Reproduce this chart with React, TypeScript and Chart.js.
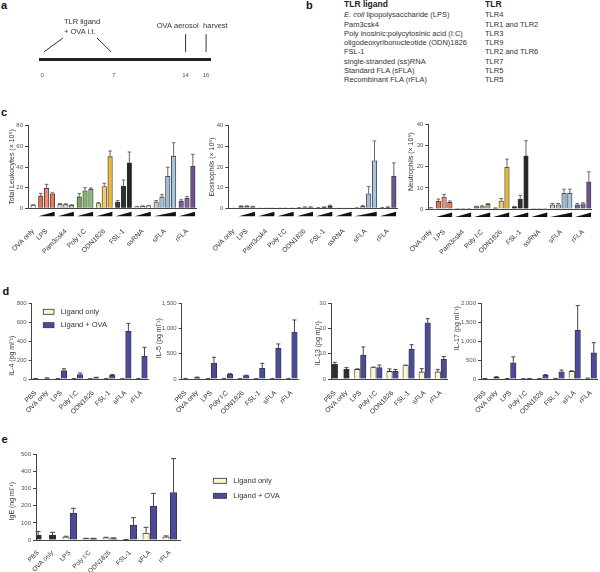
import React, { useEffect, useRef } from "react";
import { Chart, registerables } from "chart.js";
Chart.register(...registerables);

const FONT = '"Liberation Sans", Arial, Helvetica, sans-serif';

// ---------------- Panel a: timeline ----------------
const timelineDays = [0, 7, 14, 16];
const timelineTickLabels = ["0", "7", "14", "16"];
const pointerADays = [0.17, 2.02];
const pointerAHeights = [0.19, 0.54];
const pointerBDays = [5.35, 6.72];
const pointerBHeights = [0.54, 0.19];
const eventDays = [14, 16];
const eventHeights = [0.19, 0.64];
const eventLabels = ["OVA aerosol", "harvest"];
const instillLabels = ["TLR ligand", "+ OVA i.t."];

// ---------------- Panel b: table ----------------
const ligandNames = [
  "E. coli lipopolysaccharide (LPS)",
  "Pam3csk4",
  "Poly inosinic:polycytosinic acid (I:C)",
  "oligodeoxyribonucleotide (ODN)1826",
  "FSL-1",
  "single-stranded (ss)RNA",
  "Standard FLA (sFLA)",
  "Recombinant FLA (rFLA)",
];
const receptorNames = ["TLR4", "TLR1 and TLR2", "TLR3", "TLR9", "TLR2 and TLR6", "TLR7", "TLR5", "TLR5"];

// ---------------- Panel c ----------------
const cGroups = ["OVA only", "LPS", "Pam3csk4", "Poly I:C", "ODN1826", "FSL-1", "ssRNA", "sFLA", "rFLA"];
const leukocytes = [[3], [12, 19.5, 14], [4, 3.8, 3], [11, 17, 18.5], [4.5, 21, 50], [6, 21.5, 44], [1.5, 2, 2.5], [6, 11, 31, 50.5], [7, 10, 41]];
const leukocytesSem = [[0.4], [2.5, 3.7, 1], [0.6, 0.5, 0.4], [3.2, 3, 1.2], [1, 3.2, 5.5], [1.5, 5.9, 10.5], [0.3, 0.3, 0.3], [1.5, 2.5, 8.7, 13], [1.3, 1.5, 11.3]];
const eosinophils = [[0.1], [1, 1, 0.8], [0.1, 0.1, 0.1], [0.1, 0.1, 0.1], [0.2, 0.5, 0.5], [0.2, 0.5, 1.2], [0.05, 0.05, 0.05], [0.1, 1, 7, 23], [0.2, 0.5, 15.6]];
const eosinophilsSem = [[0], [0.2, 0.2, 0.2], [0, 0, 0], [0, 0, 0], [0.1, 0.2, 0.2], [0.1, 0.2, 0.3], [0, 0, 0], [0.1, 0.3, 3.5, 9.6], [0.1, 0.2, 6.4]];
const neutrophils = [[0.5], [3.6, 5.7, 3.1], [0.2, 0.2, 0.2], [1.1, 1.2, 2.2], [0.4, 3.8, 19.7], [1, 4.6, 25.2], [0.1, 0.1, 0.1], [2, 2, 7.4, 7.4], [2, 2.5, 12.9]];
const neutrophilsSem = [[0.1], [1.1, 1.2, 0.7], [0, 0, 0], [0.2, 0.3, 0.4], [0.1, 1.2, 3.9], [0.2, 1.9, 7.1], [0, 0, 0], [0.6, 0.6, 2, 2], [0.6, 0.5, 4.7]];
const cColors = [
  ["#ffffff"],
  ["#e2714f", "#ef8f75", "#ea7b5c"],
  ["#d9d9d9", "#d0d0d0", "#c8c8c8"],
  ["#79a65a", "#86b56a", "#8fbd74"],
  ["#f2dc93", "#f2cc6a", "#e9b83d"],
  ["#3c3c3c", "#303030", "#252525"],
  ["#f2f2f2", "#f4f4f4", "#f6f6f6"],
  ["#b9cce0", "#aac3dc", "#9fbbd8", "#a8c4e0"],
  ["#7a5f99", "#7f64a0", "#6f5290"],
];

// ---------------- Panels d and e ----------------
const dCats = ["PBS", "OVA only", "LPS", "Poly I:C", "ODN1826", "FSL-1", "sFLA", "rFLA"];
const seriesNames = ["Ligand only", "Ligand + OVA"];

const il4Control = [3, 10];
const il4ControlSem = [1, 2];
const il4Only = [3, 3, 2, 3, 2, 3];
const il4OnlySem = [1, 1, 1, 1, 1, 1];
const il4Ova = [90, 46, 15, 42, 507, 243];
const il4OvaSem = [18, 17, 3, 5, 81, 92];

const il5Control = [10, 30];
const il5ControlSem = [3, 8];
const il5Only = [5, 10, 5, 5, 5, 10];
const il5OnlySem = [2, 3, 2, 2, 2, 3];
const il5Ova = [317, 92, 66, 211, 608, 932];
const il5OvaSem = [113, 13, 8, 99, 86, 238];

const il13Control = [5.8, 3.8];
const il13ControlSem = [0.8, 0.7];
const il13Only = [3.8, 4.5, 3.0, 5.3, 2.8, 2.8];
const il13OnlySem = [0.2, 0.2, 1.0, 0.2, 1.3, 1.0];
const il13Ova = [9.5, 4.5, 3.0, 11.8, 22.3, 7.8];
const il13OvaSem = [3.2, 1.0, 0.8, 1.8, 1.6, 1.1];

const il17Control = [10, 52];
const il17ControlSem = [3, 8];
const il17Only = [10, 5, 10, 15, 200, 20];
const il17OnlySem = [3, 2, 3, 3, 14, 4];
const il17Ova = [428, 10, 96, 192, 1284, 690];
const il17OvaSem = [157, 3, 20, 44, 655, 270];

const igeControl = [27, 29];
const igeControlSem = [23, 16];
const igeOnly = [17.5, 8, 13, 2, 39, 18];
const igeOnlySem = [4.5, 2, 3, 1, 35, 6];
const igeOva = [156, 8, 9, 87.5, 198, 276];
const igeOvaSem = [29, 2, 4, 42.5, 74, 199];

const CONTROL_COLOR = "#2e2e2e";
const ONLY_COLOR = "#fbf6cf";
const OVA_COLOR = "#4c4b9b";

// ---------------- helpers ----------------
type Bar = { x: number; y: number; sem: number; color: string };
const C_GAP = 0.3;

function buildGroupBars(values: number[][], sems: number[][], colors: string[][]) {
  const bars: Bar[] = [];
  const centers: number[] = [];
  const wedges: [number, number][] = [];
  let k = 0;
  values.forEach((grp, g) => {
    const xs = grp.map((_, j) => k + j + g * C_GAP);
    grp.forEach((v, j) => bars.push({ x: xs[j], y: v, sem: sems[g][j], color: colors[g][j] }));
    centers.push((xs[0] + xs[xs.length - 1]) / 2);
    if (grp.length > 1) wedges.push([xs[0], xs[xs.length - 1]]);
    k += grp.length;
  });
  return { bars, centers, wedges };
}

const SINGLE_W = 0.72;
const PAIR_OFF = 0.185;
function buildPairBars(control: number[], controlSem: number[], only: number[], onlySem: number[], ova: number[], ovaSem: number[]) {
  const bars: Bar[] = [];
  const centers: number[] = [];
  let pos = 0;
  control.forEach((v, i) => {
    const c = pos + SINGLE_W / 2;
    centers.push(c);
    bars.push({ x: c, y: v, sem: controlSem[i], color: CONTROL_COLOR });
    pos += SINGLE_W;
  });
  only.forEach((v, i) => {
    const c = pos + 0.5;
    centers.push(c);
    bars.push({ x: c - PAIR_OFF, y: v, sem: onlySem[i], color: ONLY_COLOR });
    bars.push({ x: c + PAIR_OFF, y: ova[i], sem: ovaSem[i], color: OVA_COLOR });
    pos += 1;
  });
  return { bars, centers };
}

type LegendCfg = { x: number; y: number; boxW: number; boxH: number; gap: number; textX: number };
type PanelProps = {
  plot: { left: number; top: number; right: number; bottom: number };
  xMin: number;
  xMax: number;
  yMax: number;
  yStep: number;
  bars: Bar[];
  barThickness: number;
  capW: number;
  errColor: string;
  tickValues: number[];
  tickLabels: string[];
  labelPad: number;
  labelSize?: number;
  wedges?: [number, number][];
  title: string;
  titleX: number;
  titleShift: number;
  legend?: LegendCfg;
  padRight?: number;
  xAxisH?: number;
  leftRoom?: number;
};

function BarPanel(p: PanelProps) {
  const ref = useRef<HTMLCanvasElement>(null);
  const padRight = p.padRight ?? 4;
  const xAxisH = p.xAxisH ?? 40;
  const cl = Math.max(0, Math.floor(p.plot.left - (p.leftRoom ?? 30)));
  const ct = Math.floor(p.plot.top - 8);
  const cw = Math.min(600, Math.ceil(p.plot.right + padRight)) - cl;
  const ch = Math.min(572, Math.ceil(p.plot.bottom + xAxisH)) - ct;
  const yAxisW = p.plot.left - cl;
  const padTop = p.plot.top - ct;
  const padR = cl + cw - p.plot.right;
  const xH = ct + ch - p.plot.bottom;

  useEffect(() => {
    const errPlugin = {
      id: "errBars",
      afterDatasetsDraw(chart: any) {
        const ctx = chart.ctx;
        const meta = chart.getDatasetMeta(0);
        const ys = chart.scales.y;
        ctx.save();
        ctx.strokeStyle = p.errColor;
        ctx.lineWidth = 1;
        meta.data.forEach((el: any, i: number) => {
          const b = p.bars[i];
          if (!b || b.sem <= 0) return;
          const y0 = ys.getPixelForValue(b.y);
          const y1 = ys.getPixelForValue(b.y + b.sem);
          ctx.beginPath();
          ctx.moveTo(el.x, y0);
          ctx.lineTo(el.x, y1);
          ctx.moveTo(el.x - p.capW / 2, y1);
          ctx.lineTo(el.x + p.capW / 2, y1);
          ctx.stroke();
        });
        ctx.restore();
      },
    };
    const decorPlugin = {
      id: "decor",
      afterDraw(chart: any) {
        const ctx = chart.ctx;
        const xs = chart.scales.x;
        const area = chart.chartArea;
        ctx.save();
        if (p.wedges) {
          ctx.fillStyle = "#111";
          p.wedges.forEach(([a, b]) => {
            const x0 = xs.getPixelForValue(a) - p.barThickness / 2;
            const x1 = xs.getPixelForValue(b) + p.barThickness / 2;
            const yb = area.bottom + 8;
            ctx.beginPath();
            ctx.moveTo(x0, yb);
            ctx.lineTo(x1, yb);
            ctx.lineTo(x1, area.bottom + 3.5);
            ctx.closePath();
            ctx.fill();
          });
        }
        // y title
        ctx.fillStyle = "#333";
        ctx.font = `7px ${FONT}`;
        ctx.textAlign = "center";
        ctx.textBaseline = "middle";
        ctx.translate(p.titleX - cl, (area.top + area.bottom) / 2 + p.titleShift);
        ctx.rotate(-Math.PI / 2);
        ctx.fillText(p.title, 0, 0);
        ctx.restore();
        if (p.legend) {
          const L = p.legend;
          const items = [
            { label: seriesNames[0], color: ONLY_COLOR },
            { label: seriesNames[1], color: OVA_COLOR },
          ];
          ctx.save();
          ctx.font = `7.5px ${FONT}`;
          ctx.textAlign = "left";
          ctx.textBaseline = "middle";
          items.forEach((it, i) => {
            const cy = L.y + i * L.gap - ct;
            ctx.fillStyle = it.color;
            ctx.fillRect(L.x - cl, cy - L.boxH / 2, L.boxW, L.boxH);
            ctx.strokeStyle = "#333";
            ctx.lineWidth = 0.8;
            ctx.strokeRect(L.x - cl, cy - L.boxH / 2, L.boxW, L.boxH);
            ctx.fillStyle = "#333";
            ctx.fillText(it.label, L.textX - cl, cy);
          });
          ctx.restore();
        }
      },
    };
    const chart = new Chart(ref.current as HTMLCanvasElement, {
      type: "bar",
      data: {
        datasets: [
          {
            data: p.bars.map((b) => ({ x: b.x, y: b.y })),
            backgroundColor: p.bars.map((b) => b.color),
            borderColor: "#333",
            borderWidth: 0.8,
            barThickness: p.barThickness,
          } as any,
        ],
      },
      options: {
        responsive: false,
        animation: false,
        devicePixelRatio: 1,
        layout: { padding: { top: padTop, right: padR, left: 0, bottom: 0 } },
        plugins: { legend: { display: false }, tooltip: { enabled: false } },
        scales: {
          x: {
            type: "linear",
            min: p.xMin,
            max: p.xMax,
            offset: false,
            grid: { display: false, offset: false },
            border: { display: true, color: "#444", width: 1 },
            afterBuildTicks: (s: any) => {
              s.ticks = p.tickValues.map((v) => ({ value: v }));
            },
            afterFit: (s: any) => {
              s.height = xH;
            },
            ticks: {
              autoSkip: false,
              minRotation: 45,
              maxRotation: 45,
              padding: p.labelPad,
              color: "#333",
              font: { family: FONT, size: p.labelSize ?? 6.8 },
              callback: (_v: any, i: number) => p.tickLabels[i],
            },
          } as any,
          y: {
            type: "linear",
            min: 0,
            max: p.yMax,
            stacked: false,
            afterFit: (s: any) => {
              s.width = yAxisW;
            },
            grid: { display: true, drawOnChartArea: false, drawTicks: true, tickLength: 3, color: "#444", lineWidth: 1 },
            border: { display: true, color: "#444", width: 1 },
            ticks: {
              stepSize: p.yStep,
              padding: 2,
              color: "#555",
              font: { family: FONT, size: 6 },
              callback: (v: any) => Number(v).toLocaleString("en-US"),
            },
          } as any,
        },
      },
      plugins: [errPlugin, decorPlugin],
    });
    return () => chart.destroy();
  }, []);

  return (
    <canvas
      ref={ref}
      width={cw}
      height={ch}
      style={{ position: "absolute", left: cl, top: ct, width: cw, height: ch, display: "block" }}
    />
  );
}

function TimelineChart() {
  const ref = useRef<HTMLCanvasElement>(null);
  const W = 300;
  const H = 90;
  const plot = { left: 40.7, top: 20, right: 210.7, bottom: 59.3 };
  useEffect(() => {
    const textPlugin = {
      id: "tlText",
      afterDraw(chart: any) {
        const ctx = chart.ctx;
        const xs = chart.scales.x;
        const ys = chart.scales.y;
        ctx.save();
        ctx.fillStyle = "#333";
        ctx.font = `7.5px ${FONT}`;
        ctx.textBaseline = "middle";
        ctx.textAlign = "left";
        const tx = xs.getPixelForValue(pointerADays[1]) + 1;
        ctx.fillText(instillLabels[0], tx, ys.getPixelForValue(0.957));
        ctx.fillText(instillLabels[1], tx, ys.getPixelForValue(0.687));
        ctx.textAlign = "center";
        ctx.fillText(eventLabels[0], xs.getPixelForValue(eventDays[0]) - 8, ys.getPixelForValue(0.847));
        ctx.textAlign = "left";
        ctx.fillText(eventLabels[1], xs.getPixelForValue(eventDays[1]) - 3, ys.getPixelForValue(0.847));
        ctx.restore();
      },
    };
    const line = (xs: number[], ys: number[]) => ({
      data: xs.map((x, i) => ({ x, y: ys[i] })),
      showLine: true,
      borderColor: "#333",
      borderWidth: 1,
      pointRadius: 0,
    });
    const chart = new Chart(ref.current as HTMLCanvasElement, {
      type: "scatter",
      data: {
        datasets: [
          line(pointerADays, pointerAHeights),
          line(pointerBDays, pointerBHeights),
          line([eventDays[0], eventDays[0]], eventHeights),
          line([eventDays[1], eventDays[1]], eventHeights),
        ] as any,
      },
      options: {
        responsive: false,
        animation: false,
        devicePixelRatio: 1,
        layout: { padding: { left: plot.left, top: plot.top, right: W - plot.right, bottom: 0 } },
        plugins: { legend: { display: false }, tooltip: { enabled: false } },
        scales: {
          x: {
            type: "linear",
            min: -0.15,
            max: 16.45,
            grid: { display: false },
            border: { display: true, color: "#222", width: 3 },
            afterBuildTicks: (s: any) => {
              s.ticks = timelineDays.map((v) => ({ value: v }));
            },
            afterFit: (s: any) => {
              s.height = H - plot.bottom;
            },
            ticks: {
              autoSkip: false,
              maxRotation: 0,
              minRotation: 0,
              padding: 4,
              color: "#555",
              font: { family: FONT, size: 6 },
              callback: (_v: any, i: number) => timelineTickLabels[i],
            },
          } as any,
          y: { display: false, min: 0, max: 1 },
        },
      },
      plugins: [textPlugin],
    });
    return () => chart.destroy();
  }, []);
  return (
    <canvas ref={ref} width={W} height={H} style={{ position: "absolute", left: 0, top: 0, width: W, height: H, display: "block" }} />
  );
}

const letterStyle = (left: number, top: number): React.CSSProperties => ({
  position: "absolute",
  left,
  top,
  fontSize: 11,
  lineHeight: "11px",
  fontWeight: "bold",
  color: "#111",
});

const tableText: React.CSSProperties = {
  position: "absolute",
  lineHeight: "9.29px",
  whiteSpace: "nowrap",
  opacity: 0.999,
  WebkitFontSmoothing: "antialiased",
};

export default function App() {
  const c1 = buildGroupBars(leukocytes, leukocytesSem, cColors);
  const c2 = buildGroupBars(eosinophils, eosinophilsSem, cColors);
  const c3 = buildGroupBars(neutrophils, neutrophilsSem, cColors);
  const d4 = buildPairBars(il4Control, il4ControlSem, il4Only, il4OnlySem, il4Ova, il4OvaSem);
  const d5 = buildPairBars(il5Control, il5ControlSem, il5Only, il5OnlySem, il5Ova, il5OvaSem);
  const d13 = buildPairBars(il13Control, il13ControlSem, il13Only, il13OnlySem, il13Ova, il13OvaSem);
  const d17 = buildPairBars(il17Control, il17ControlSem, il17Only, il17OnlySem, il17Ova, il17OvaSem);
  const e = buildPairBars(igeControl, igeControlSem, igeOnly, igeOnlySem, igeOva, igeOvaSem);

  const cCommon = { barThickness: 4.5, capW: 3.5, errColor: "#666", labelPad: 11, tickLabels: cGroups, xAxisH: 48 };
  const dCommon = { barThickness: 5.5, capW: 4, errColor: "#444", labelPad: 2, tickLabels: dCats, xAxisH: 40, xMin: 0.12, xMax: 7.35 };
  const dPlot = (left: number) => ({ left, top: 303.3, right: left + 116.4, bottom: 379 });

  return (
    <div
      style={{
        position: "fixed",
        left: 0,
        top: 0,
        width: 600,
        height: 572,
        background: "#fff",
        overflow: "hidden",
        fontFamily: FONT,
      }}
    >
      <div style={letterStyle(1, 0)}>a</div>
      <div style={letterStyle(306, 0)}>b</div>
      <div style={letterStyle(1, 107.4)}>c</div>
      <div style={letterStyle(2.5, 285.7)}>d</div>
      <div style={letterStyle(1.5, 434)}>e</div>

      <TimelineChart />

      <div style={{ ...tableText, left: 344, top: 0.4, fontSize: 8.5, fontWeight: "bold", color: "#222" }}>TLR ligand</div>
      <div style={{ ...tableText, left: 485, top: 0.4, fontSize: 8.5, fontWeight: "bold", color: "#222" }}>TLR</div>
      <div style={{ ...tableText, left: 344, top: 10.3, fontSize: 7.5, color: "#333" }}>
        {ligandNames.map((n, i) =>
          n.startsWith("E. coli") ? (
            <div key={i}>
              <i>E. coli</i>
              {n.slice(7)}
            </div>
          ) : (
            <div key={i}>{n}</div>
          )
        )}
      </div>
      <div style={{ ...tableText, left: 485, top: 10.3, fontSize: 7.5, color: "#333" }}>
        {receptorNames.map((n, i) => (
          <div key={i}>{n}</div>
        ))}
      </div>

      <BarPanel
        {...cCommon}
        plot={{ left: 28, top: 125.7, right: 200, bottom: 208.3 }}
        xMin={-0.89}
        xMax={27.95}
        yMax={80}
        yStep={20}
        bars={c1.bars}
        tickValues={c1.centers}
        wedges={c1.wedges}
        title="Total Leukocytes (× 10⁵)"
        titleX={11.7}
        titleShift={0}
      />
      <BarPanel
        {...cCommon}
        plot={{ left: 228.3, top: 125.7, right: 400.3, bottom: 208.3 }}
        xMin={-0.89}
        xMax={27.95}
        yMax={40}
        yStep={10}
        bars={c2.bars}
        tickValues={c2.centers}
        wedges={c2.wedges}
        title="Eosinophils (× 10⁵)"
        titleX={212}
        titleShift={0}
      />
      <BarPanel
        {...cCommon}
        plot={{ left: 428.3, top: 124.5, right: 597, bottom: 209 }}
        xMin={-0.44}
        xMax={27.85}
        yMax={40}
        yStep={10}
        bars={c3.bars}
        tickValues={c3.centers}
        wedges={c3.wedges}
        title="Neutrophils (× 10⁵)"
        titleX={410.7}
        titleShift={-5}
        padRight={3}
      />

      <BarPanel
        {...dCommon}
        plot={dPlot(31.7)}
        yMax={800}
        yStep={200}
        bars={d4.bars}
        tickValues={d4.centers}
        title="IL-4 (pg ml⁻¹)"
        titleX={11.7}
        titleShift={14.5}
        leftRoom={32}
        legend={{ x: 43.3, y: 311.8, boxW: 10.7, boxH: 5, gap: 13.4, textX: 60.7 }}
      />
      <BarPanel
        {...dCommon}
        plot={dPlot(181.7)}
        yMax={1500}
        yStep={500}
        bars={d5.bars}
        tickValues={d5.centers}
        title="IL-5 (pg ml⁻¹)"
        titleX={159.3}
        titleShift={-3}
      />
      <BarPanel
        {...dCommon}
        plot={dPlot(331)}
        yMax={30}
        yStep={10}
        bars={d13.bars}
        tickValues={d13.centers}
        title="IL-13 (pg ml⁻¹)"
        titleX={318.3}
        titleShift={2}
      />
      <BarPanel
        {...dCommon}
        plot={dPlot(481)}
        yMax={2000}
        yStep={500}
        bars={d17.bars}
        tickValues={d17.centers}
        title="IL-17 (pg ml⁻¹)"
        titleX={457.3}
        titleShift={-13}
        padRight={2}
      />

      <BarPanel
        plot={{ left: 36, top: 454.3, right: 180, bottom: 540 }}
        xMin={0.255}
        xMax={7.45}
        yMax={500}
        yStep={100}
        bars={e.bars}
        barThickness={6.5}
        capW={5}
        errColor="#444"
        tickValues={e.centers}
        tickLabels={dCats}
        labelPad={1}
        labelSize={6.5}
        title="IgE (ng ml⁻¹)"
        titleX={11.7}
        titleShift={4}
        padRight={120}
        xAxisH={32}
        leftRoom={36}
        legend={{ x: 213.3, y: 480.8, boxW: 13.3, boxH: 5, gap: 15, textX: 233.3 }}
      />
    </div>
  );
}
